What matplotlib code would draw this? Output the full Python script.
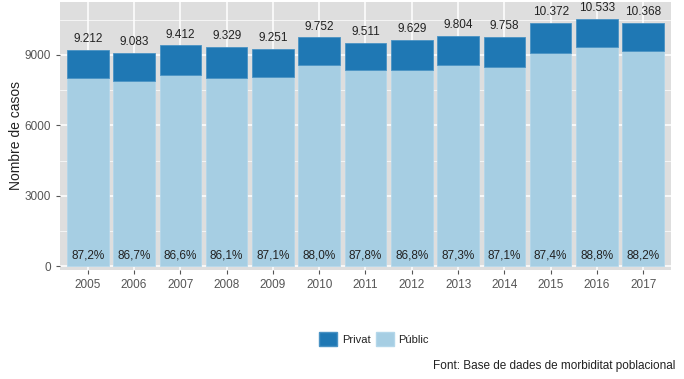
import numpy as np
import matplotlib.pyplot as plt
from matplotlib.patches import Patch

plt.rcParams['font.family'] = ['Liberation Sans', 'DejaVu Sans']

years = ['2005', '2006', '2007', '2008', '2009', '2010', '2011',
         '2012', '2013', '2014', '2015', '2016', '2017']
totals = [9212, 9083, 9412, 9329, 9251, 9752, 9511,
          9629, 9804, 9758, 10372, 10533, 10368]
pct_public = [87.2, 86.7, 86.6, 86.1, 87.1, 88.0, 87.8,
              86.8, 87.3, 87.1, 87.4, 88.8, 88.2]

totals = np.array(totals, dtype=float)
public = totals * np.array(pct_public) / 100
private = totals - public

dark = '#1F78B4'
light = '#A6CEE3'
panel_bg = '#DEDEDE'
txt = '#222222'

fig = plt.figure(figsize=(6.84, 3.79), dpi=100)
ax = fig.add_axes([60 / 684, 1 - 270 / 379, 611 / 684, 268 / 379])
ax.set_facecolor(panel_bg)

x = np.arange(len(years))
ax.bar(x, public, width=0.9, color=light, edgecolor='#B4D7EA', linewidth=0.6, zorder=3)
ax.bar(x, private, width=0.9, bottom=public, color=dark, edgecolor='#4A93C4',
       linewidth=0.6, zorder=3)

# total count above each bar, public share at the foot
for xi, tot, p in zip(x, totals, pct_public):
    ax.text(xi, tot + 200, f'{int(tot):,}'.replace(',', '.'), ha='center', va='bottom',
            fontsize=8.5, color=txt, zorder=4)
    ax.text(xi, 480, f'{p:.1f}%'.replace('.', ','), ha='center', va='center',
            fontsize=8.5, color=txt, zorder=4)

ax.set_xlim(-0.6, 12.6)
ax.set_ylim(-150, 11250)
ax.set_xticks(x)
ax.set_xticklabels(years)
ax.set_yticks([0, 3000, 6000, 9000])
ax.set_yticks([1500, 4500, 7500, 10500], minor=True)
ax.grid(which='major', color='white', linewidth=1.1, zorder=0)
ax.grid(which='minor', axis='y', color='white', linewidth=0.5, zorder=0)
ax.tick_params(axis='both', which='major', colors='#555555', labelsize=8.5,
               length=3, width=0.8, labelcolor='#555555')
ax.tick_params(axis='y', which='minor', length=0)
for s in ax.spines.values():
    s.set_visible(False)
ax.set_ylabel('Nombre de casos', fontsize=10, color=txt)
ax.yaxis.set_label_coords(-0.060, 0.5)

handles = [Patch(facecolor=dark, edgecolor='#4A93C4', label='Privat'),
           Patch(facecolor=light, edgecolor='#B4D7EA', label='Públic')]
fig.legend(handles=handles, loc='center', bbox_to_anchor=(374 / 684, 1 - 339 / 379),
           ncol=2, frameon=False, fontsize=8, handlelength=1.6, handleheight=1.6,
           handletextpad=0.4, columnspacing=0.5, labelcolor=txt)

fig.text(675 / 684, 1 - 366 / 379, 'Font: Base de dades de morbiditat poblacional',
         ha='right', va='center', fontsize=8.5, color=txt)

fig.savefig('out.png', dpi=100)
